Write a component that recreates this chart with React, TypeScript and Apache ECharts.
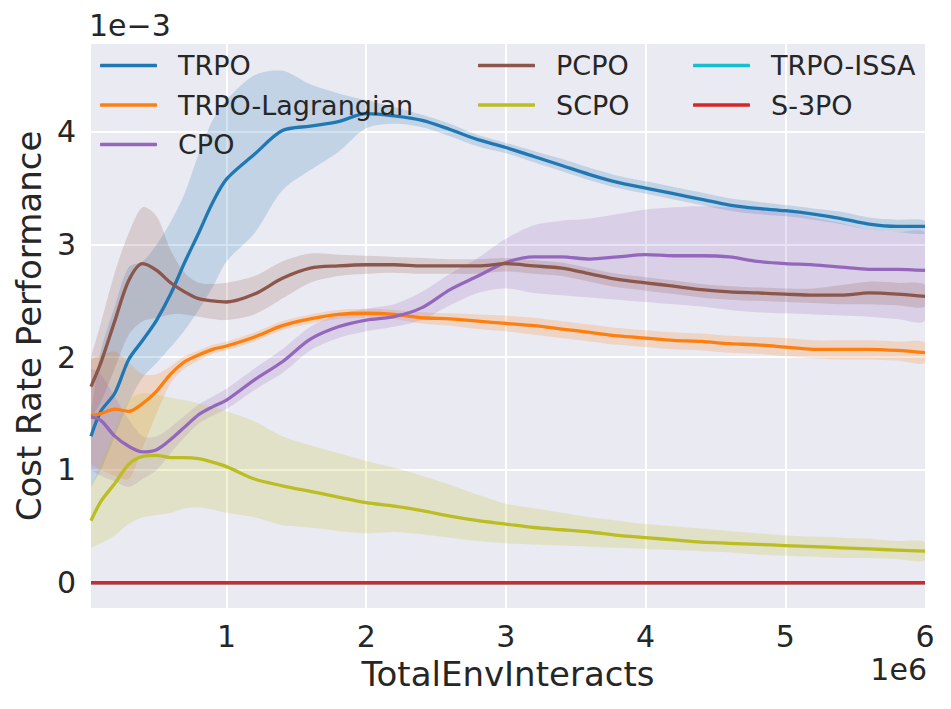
import React, { useEffect, useRef } from "react";
import * as echarts from "echarts";

const steps = [0.03, 0.1, 0.2, 0.3, 0.4, 0.5, 0.6, 0.7, 0.8, 0.9, 1.0, 1.2, 1.4, 1.6, 1.8, 2.0, 2.2, 2.4, 2.6, 2.8, 3.0, 3.2, 3.4, 3.6, 3.8, 4.0, 4.2, 4.4, 4.6, 4.8, 5.0, 5.2, 5.4, 5.6, 5.8, 6.0];

const trpoMean = [1.30, 1.52, 1.68, 1.98, 2.15, 2.33, 2.56, 2.84, 3.10, 3.37, 3.58, 3.80, 4.01, 4.05, 4.09, 4.16, 4.14, 4.10, 4.02, 3.93, 3.86, 3.78, 3.70, 3.62, 3.55, 3.50, 3.45, 3.40, 3.35, 3.32, 3.30, 3.27, 3.23, 3.18, 3.16, 3.16];
const trpoHi = [1.50, 2.05, 2.45, 2.80, 2.85, 3.00, 3.20, 3.45, 3.80, 4.10, 4.28, 4.50, 4.54, 4.42, 4.34, 4.28, 4.22, 4.15, 4.07, 3.97, 3.90, 3.83, 3.76, 3.68, 3.61, 3.56, 3.51, 3.46, 3.41, 3.38, 3.35, 3.32, 3.29, 3.24, 3.22, 3.21];
const trpoLo = [0.85, 1.00, 1.30, 1.60, 1.82, 1.95, 2.09, 2.24, 2.42, 2.62, 2.85, 3.10, 3.48, 3.66, 3.82, 4.03, 4.07, 4.04, 3.96, 3.87, 3.81, 3.73, 3.65, 3.57, 3.50, 3.45, 3.40, 3.35, 3.30, 3.27, 3.25, 3.22, 3.18, 3.13, 3.11, 3.10];

const lagMean = [1.48, 1.50, 1.54, 1.52, 1.59, 1.70, 1.85, 1.96, 2.02, 2.07, 2.10, 2.18, 2.28, 2.34, 2.38, 2.39, 2.38, 2.35, 2.34, 2.32, 2.30, 2.28, 2.25, 2.22, 2.19, 2.17, 2.15, 2.14, 2.12, 2.11, 2.09, 2.07, 2.07, 2.07, 2.06, 2.04];
const lagHi = [1.98, 2.02, 2.05, 1.95, 1.85, 1.85, 1.92, 2.01, 2.06, 2.11, 2.14, 2.22, 2.32, 2.38, 2.42, 2.43, 2.42, 2.40, 2.39, 2.38, 2.37, 2.35, 2.32, 2.29, 2.26, 2.24, 2.22, 2.21, 2.19, 2.18, 2.17, 2.15, 2.15, 2.15, 2.14, 2.13];
const lagLo = [1.05, 1.00, 0.95, 0.92, 1.20, 1.50, 1.77, 1.90, 1.97, 2.03, 2.06, 2.14, 2.24, 2.30, 2.34, 2.35, 2.34, 2.30, 2.28, 2.25, 2.23, 2.20, 2.17, 2.14, 2.11, 2.09, 2.07, 2.06, 2.04, 2.03, 2.01, 1.99, 1.98, 1.98, 1.97, 1.95];

const cpoMean = [1.47, 1.44, 1.30, 1.21, 1.16, 1.18, 1.27, 1.38, 1.49, 1.56, 1.62, 1.80, 1.96, 2.16, 2.27, 2.33, 2.36, 2.44, 2.60, 2.72, 2.84, 2.89, 2.89, 2.87, 2.89, 2.91, 2.90, 2.90, 2.89, 2.85, 2.83, 2.82, 2.80, 2.78, 2.78, 2.77];
const cpoHi = [1.90, 1.85, 1.65, 1.45, 1.30, 1.30, 1.38, 1.48, 1.58, 1.65, 1.72, 1.90, 2.07, 2.27, 2.38, 2.43, 2.47, 2.58, 2.74, 2.88, 3.05, 3.17, 3.21, 3.23, 3.27, 3.31, 3.33, 3.34, 3.33, 3.31, 3.29, 3.24, 3.19, 3.13, 3.11, 3.10];
const cpoLo = [1.00, 0.95, 0.90, 0.85, 0.92, 1.00, 1.15, 1.29, 1.41, 1.48, 1.54, 1.71, 1.86, 2.06, 2.17, 2.23, 2.27, 2.33, 2.46, 2.57, 2.61, 2.57, 2.55, 2.53, 2.51, 2.49, 2.47, 2.45, 2.42, 2.40, 2.39, 2.38, 2.37, 2.36, 2.34, 2.33];

const pcpoMean = [1.74, 1.95, 2.32, 2.68, 2.83, 2.77, 2.66, 2.58, 2.52, 2.50, 2.49, 2.56, 2.70, 2.79, 2.81, 2.82, 2.82, 2.81, 2.81, 2.81, 2.83, 2.81, 2.79, 2.74, 2.69, 2.66, 2.63, 2.60, 2.58, 2.57, 2.56, 2.55, 2.55, 2.57, 2.56, 2.54];
const pcpoHi = [2.00, 2.30, 2.75, 3.10, 3.33, 3.25, 2.95, 2.75, 2.66, 2.65, 2.66, 2.72, 2.85, 2.92, 2.91, 2.90, 2.89, 2.88, 2.87, 2.87, 2.88, 2.86, 2.84, 2.79, 2.74, 2.71, 2.68, 2.65, 2.63, 2.62, 2.61, 2.61, 2.64, 2.67, 2.66, 2.64];
const pcpoLo = [1.45, 1.60, 1.90, 2.20, 2.32, 2.35, 2.38, 2.38, 2.36, 2.34, 2.33, 2.38, 2.52, 2.66, 2.72, 2.74, 2.75, 2.74, 2.74, 2.74, 2.76, 2.74, 2.72, 2.67, 2.62, 2.59, 2.56, 2.53, 2.51, 2.50, 2.49, 2.48, 2.47, 2.47, 2.46, 2.45];

const scpoMean = [0.55, 0.72, 0.88, 1.05, 1.12, 1.13, 1.11, 1.11, 1.10, 1.07, 1.03, 0.92, 0.86, 0.81, 0.76, 0.71, 0.68, 0.64, 0.59, 0.55, 0.52, 0.49, 0.47, 0.45, 0.42, 0.40, 0.38, 0.36, 0.35, 0.34, 0.33, 0.32, 0.31, 0.30, 0.29, 0.28];
const scpoHi = [0.85, 1.05, 1.35, 1.62, 1.68, 1.67, 1.64, 1.62, 1.59, 1.56, 1.52, 1.43, 1.30, 1.22, 1.15, 1.08, 1.02, 0.95, 0.87, 0.78, 0.70, 0.66, 0.62, 0.58, 0.55, 0.52, 0.50, 0.48, 0.46, 0.44, 0.42, 0.41, 0.40, 0.39, 0.37, 0.36];
const scpoLo = [0.31, 0.35, 0.42, 0.52, 0.58, 0.60, 0.62, 0.66, 0.67, 0.65, 0.62, 0.58, 0.51, 0.49, 0.46, 0.44, 0.45, 0.43, 0.40, 0.37, 0.35, 0.34, 0.33, 0.32, 0.31, 0.30, 0.29, 0.28, 0.27, 0.25, 0.24, 0.23, 0.22, 0.22, 0.21, 0.20];

const issaMean = [0, 0, 0, 0, 0, 0, 0, 0, 0, 0, 0, 0, 0, 0, 0, 0, 0, 0, 0, 0, 0, 0, 0, 0, 0, 0, 0, 0, 0, 0, 0, 0, 0, 0, 0, 0];
const s3poMean = [0, 0, 0, 0, 0, 0, 0, 0, 0, 0, 0, 0, 0, 0, 0, 0, 0, 0, 0, 0, 0, 0, 0, 0, 0, 0, 0, 0, 0, 0, 0, 0, 0, 0, 0, 0];

const legendCol1 = ["TRPO", "TRPO-Lagrangian", "CPO"];
const legendCol2 = ["PCPO", "SCPO"];
const legendCol3 = ["TRPO-ISSA", "S-3PO"];

const FONT = "DejaVu Sans";
const TXT = "#262626";

export default function App() {
  const ref = useRef<HTMLDivElement>(null);
  useEffect(() => {
    document.body.style.margin = "0";
    const chart = echarts.init(ref.current!, null, { renderer: "svg" });

    const algos = [
      { name: "TRPO", color: "#1f77b4", mean: trpoMean, lo: trpoLo, hi: trpoHi },
      { name: "TRPO-Lagrangian", color: "#ff7f0e", mean: lagMean, lo: lagLo, hi: lagHi },
      { name: "CPO", color: "#9467bd", mean: cpoMean, lo: cpoLo, hi: cpoHi },
      { name: "PCPO", color: "#8c564b", mean: pcpoMean, lo: pcpoLo, hi: pcpoHi },
      { name: "SCPO", color: "#bcbd22", mean: scpoMean, lo: scpoLo, hi: scpoHi },
      { name: "TRPO-ISSA", color: "#17becf", mean: issaMean, lo: null, hi: null },
      { name: "S-3PO", color: "#d62728", mean: s3poMean, lo: null, hi: null },
    ];

    const series: any[] = [];
    algos.forEach((a) => {
      if (a.lo && a.hi) {
        const lo = a.lo as number[];
        const hi = a.hi as number[];
        const color = a.color;
        series.push({
          name: a.name + " band",
          type: "custom",
          data: steps.map((x, i) => [x, lo[i], hi[i]]),
          encode: { x: 0, y: [1, 2] },
          silent: true,
          clip: true,
          z: 1,
          renderItem: (params: any, api: any) => {
            if (params.dataIndex !== 0) return null;
            const upper = steps.map((x, i) => api.coord([x, hi[i]]));
            const lower = steps.map((x, i) => api.coord([x, lo[i]]));
            const upperPath = "M" + upper.map((p: number[]) => p[0] + "," + p[1]).join("L");
            return {
              type: "group",
              children: [
                {
                  type: "polyline",
                  shape: { points: upper.concat(lower.slice().reverse()), smooth: 0.3 },
                  style: { fill: color, opacity: 0.2, stroke: "none" },
                },
              ],
            };
          },
        });
      }
    });
    algos.forEach((a) => {
      series.push({
        name: a.name,
        type: "line",
        data: steps.map((x, i) => [x, a.mean[i]]),
        symbol: "none",
        smooth: 0.3,
        lineStyle: { color: a.color, width: 3.3 },
        itemStyle: { color: a.color },
        z: 3,
      });
    });

    const legendBase = {
      orient: "vertical",
      top: 50.5,
      padding: 0,
      itemGap: 9.5,
      itemWidth: 57,
      itemHeight: 3.5,
      icon: "roundRect",
      selectedMode: false,
      textStyle: {
        fontSize: 27,
        lineHeight: 30,
        color: TXT,
        fontFamily: FONT,
        padding: [0, 0, 0, 16],
      },
    };

    chart.setOption({
      animation: false,
      textStyle: { fontFamily: FONT },
      grid: {
        left: 91,
        right: 26,
        top: 44,
        bottom: 101,
        show: true,
        backgroundColor: "#EAEAF2",
        borderWidth: 0,
      },
      legend: [
        { ...legendBase, left: 100, data: legendCol1 },
        { ...legendBase, left: 478, data: legendCol2 },
        { ...legendBase, left: 693, data: legendCol3 },
      ],
      xAxis: {
        type: "value",
        min: 0.03,
        max: 6,
        minInterval: 1,
        maxInterval: 1,
        name: "TotalEnvInteracts",
        nameLocation: "middle",
        nameGap: 49,
        nameTextStyle: { fontSize: 34, color: TXT, fontFamily: FONT },
        axisLine: { show: false },
        axisTick: { show: false },
        axisLabel: {
          fontSize: 30,
          color: TXT,
          fontFamily: FONT,
          margin: 13,
          showMinLabel: false,
          formatter: (v: number) => String(v),
        },
        splitLine: {
          show: true,
          showMinLine: false,
          showMaxLine: false,
          lineStyle: { color: "#ffffff", width: 2 },
        },
      },
      yAxis: {
        type: "value",
        min: -0.224,
        max: 4.778,
        minInterval: 1,
        maxInterval: 1,
        name: "Cost Rate Performance",
        nameLocation: "middle",
        nameGap: 42,
        nameTextStyle: { fontSize: 34, color: TXT, fontFamily: FONT },
        axisLine: { show: false },
        axisTick: { show: false },
        axisLabel: {
          fontSize: 30,
          color: TXT,
          fontFamily: FONT,
          margin: 15,
          showMinLabel: false,
          showMaxLabel: false,
          formatter: (v: number) => String(v),
        },
        splitLine: {
          show: true,
          showMinLine: false,
          showMaxLine: false,
          lineStyle: { color: "#ffffff", width: 2 },
        },
      },
      graphic: [
        {
          type: "text",
          left: 89,
          top: 10,
          style: { text: "1e\u22123", fontSize: 30, fill: TXT, fontFamily: FONT },
        },
        {
          type: "text",
          right: 24,
          top: 654,
          style: { text: "1e6", fontSize: 30, fill: TXT, fontFamily: FONT },
        },
      ],
      series,
    });

    return () => chart.dispose();
  }, []);

  return <div ref={ref} style={{ width: 951, height: 709 }} />;
}
